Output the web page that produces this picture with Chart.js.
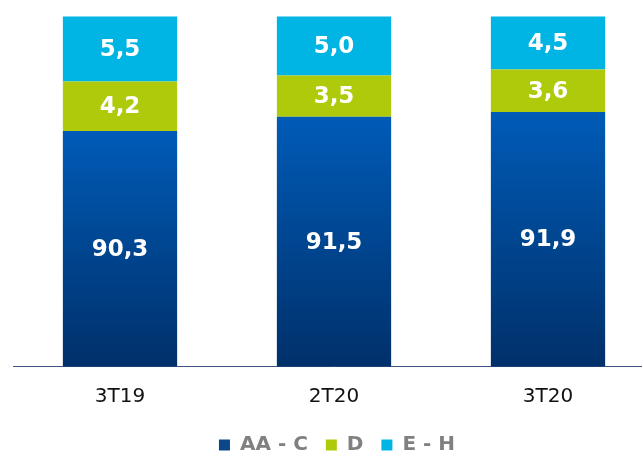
<!DOCTYPE html>
<html>
<head>
<meta charset="utf-8">
<script src="https://cdn.jsdelivr.net/npm/chart.js@4.4.1/dist/chart.umd.min.js"></script>
<style>
  html, body { margin: 0; padding: 0; background: #fff; overflow: hidden; }
  #wrap { position: relative; width: 655px; height: 455px; }
</style>
</head>
<body>
<div id="wrap"><canvas id="chart"></canvas></div>
<script>
// --- data ---
const categories = ['3T19', '2T20', '3T20'];
const seriesNames = ['AA - C', 'D', 'E - H'];
const aaC = [90.3, 91.5, 91.9];
const dRating = [4.2, 3.5, 3.6];
const eH = [5.5, 5.0, 4.5];

const blueTop = '#005BB7';
const blueBottom = '#00306A';
const green = '#AFCA0B';
const cyan = '#00B4E4';

function fmt(v) { return v.toFixed(1).replace('.', ','); }

// blue bars: gradient from each bar top to axis
function blueFill(ctx) {
    const chart = ctx.chart;
    const area = chart.chartArea;
    if (!area || ctx.parsed === undefined || ctx.parsed === null) return '#0A4688';
    const top = chart.scales.y.getPixelForValue(ctx.parsed.y);
    const g = chart.ctx.createLinearGradient(0, top, 0, area.bottom);
    g.addColorStop(0, blueTop);
    g.addColorStop(1, blueBottom);
    return g;
}

const segmentLabels = {
    id: 'segmentLabels',
    afterDatasetsDraw(chart) {
        const ctx = chart.ctx;
        const area = chart.chartArea;
        ctx.save();
        ctx.fillStyle = '#fff';
        ctx.font = 'bold 23px "DejaVu Sans", Verdana, sans-serif';
        ctx.textAlign = 'center';
        ctx.textBaseline = 'middle';
        chart.data.datasets.forEach((ds, i) => {
            chart.getDatasetMeta(i).data.forEach((bar, j) => {
                const bottom = Math.min(bar.base, area.bottom);
                ctx.fillText(fmt(ds.data[j]), bar.x, (bar.y + bottom) / 2 + 1);
            });
        });
        ctx.restore();
    }
};

// tighten legend box so it sits lower, and nudge it right a bit
const legendTweak = {
    id: 'legendTweak',
    beforeInit(chart) {
        const fit = chart.legend.fit;
        chart.legend.fit = function () {
            fit.call(this);
            this.height -= 10;
        };
    },
    afterLayout(chart) {
        chart.legend.left += 3;
        chart.legend.right += 3;
    }
};

const legendColors = ['#0A4688', green, cyan];

new Chart(document.getElementById('chart'), {
    type: 'bar',
    data: {
        labels: categories,
        datasets: [
            { label: seriesNames[0], data: aaC, backgroundColor: blueFill },
            { label: seriesNames[1], data: dRating, backgroundColor: green },
            { label: seriesNames[2], data: eH, backgroundColor: cyan }
        ]
    },
    options: {
        responsive: true,
        maintainAspectRatio: false,
        animation: false,
        layout: { padding: { left: 13, right: 0, top: 0, bottom: 0 } },
        datasets: { bar: { categoryPercentage: 1, barPercentage: 0.534, borderWidth: 0 } },
        plugins: {
            tooltip: { enabled: false },
            legend: {
                position: 'bottom',
                labels: {
                    boxWidth: 11,
                    boxHeight: 11,
                    padding: 18,
                    color: '#808080',
                    font: { family: '"DejaVu Sans", Verdana, sans-serif', size: 20, weight: 'bold' },
                    generateLabels: (chart) => chart.data.datasets.map((ds, i) => ({
                        text: ds.label,
                        fillStyle: legendColors[i],
                        strokeStyle: legendColors[i],
                        lineWidth: 0,
                        fontColor: '#808080',
                        datasetIndex: i
                    }))
                }
            }
        },
        scales: {
            x: {
                stacked: true,
                grid: { display: true, drawOnChartArea: false, drawTicks: false, color: 'transparent' },
                border: { display: true, color: '#3D5580', width: 1 },
                ticks: {
                    padding: 18,
                    color: '#111',
                    font: { family: '"DejaVu Sans", Verdana, sans-serif', size: 20 }
                },
                afterFit(scale) { scale.height -= 9.5; }
            },
            y: {
                stacked: true,
                display: false,
                min: 70.34,
                max: 101.4
            }
        }
    },
    plugins: [segmentLabels, legendTweak]
});
</script>
</body>
</html>
